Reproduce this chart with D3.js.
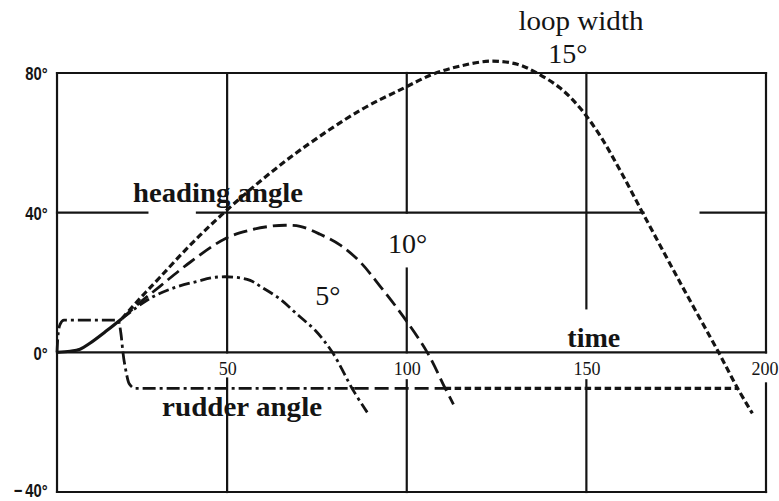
<!DOCTYPE html>
<html>
<head>
<meta charset="utf-8">
<script src="https://cdn.jsdelivr.net/npm/d3@7/dist/d3.min.js"></script>
<style>
  html, body { margin: 0; padding: 0; background: #fff; }
  svg { display: block; }
</style>
</head>
<body>
<svg id="chart" width="779" height="501"></svg>
<script>
// ---- data ---------------------------------------------------------------
// Common start of the heading-angle response (all loop widths coincide)
const headingStartTime = [2.65, 6.3, 9.05, 11.8, 16.6, 20.75];
const headingStartDeg  = [0, 0.3, 0.9, 2.6, 6.3, 9.7];

// Heading angle after the branch point, per loop width
const heading5Time  = [20.75, 28.6, 35.5, 41.6, 46.7, 52.2, 56.4, 59.7, 64.8, 69.8, 74.5, 79.3, 85.1, 89.0];
const heading5Deg   = [9.7, 15.5, 18.6, 20.3, 21.5, 21.5, 20.6, 18.6, 15.2, 10.6, 6.3, 0, -10.9, -17.2];

const heading10Time = [20.75, 25.8, 31.3, 39.7, 49.7, 56.4, 62.0, 66.2, 70.3, 75.9, 81.5, 87.1, 92.6, 99.0, 105.7, 110.7, 113.0];
const heading10Deg  = [9.7, 14.3, 18.9, 25.8, 32.7, 35.0, 36.1, 36.4, 36.1, 33.8, 30.7, 25.8, 18.9, 10.3, 0, -10.3, -14.9];

const heading15Time = [20.75, 25.8, 31.3, 39.7, 48.6, 59.2, 70.3, 87.0, 99.0, 107.4, 114.9, 123.3, 130.8, 136.4, 142.8, 148.3, 153.9, 159.5, 165.9, 176.2, 186.8, 192.1, 196.2];
const heading15Deg  = [9.7, 15.5, 21.5, 30.7, 39.5, 49.0, 57.9, 69.3, 75.6, 79.7, 82.0, 83.4, 82.5, 79.9, 75.6, 69.9, 61.9, 51.9, 39.5, 19.8, 0, -10.3, -17.5];

// Rudder angle command
const rudderTime = [2.65, 2.9, 3.5, 4.6, 19.6, 20.5, 21.0, 21.9, 22.7, 24.4, 192.1];
const rudderDeg  = [0, 4.6, 8.0, 9.2, 9.2, 4.9, 0, -5.7, -8.9, -10.3, -10.3];

// Time at which the rudder command of each loop ends
const loopEndTime = [85.1, 110.7, 192.1];
const loopNames   = ["5°", "10°", "15°"];

// Axis ticks
const yTicks = [-40, 0, 40, 80];
const xTicks = [50, 100, 150, 200];

// ---- scales --------------------------------------------------------------
const svg = d3.select("#chart");
const x = d3.scaleLinear().domain([0, 200]).range([47.5, 766]);
const y = d3.scaleLinear().domain([-40, 80]).range([492, 73]);
const tMin = headingStartTime[0];

const ink = "#141414";

// ---- frame and grid -------------------------------------------------------
const grid = svg.append("g")
  .attr("stroke", ink)
  .attr("stroke-width", 2.2)
  .attr("stroke-linecap", "square")
  .attr("fill", "none");

function hSeg(v, t0, t1) {
  grid.append("line").attr("x1", x(t0)).attr("x2", x(t1)).attr("y1", y(v)).attr("y2", y(v));
}
function vSeg(t, v0, v1) {
  grid.append("line").attr("x1", x(t)).attr("x2", x(t)).attr("y1", y(v0)).attr("y2", y(v1));
}

hSeg(80, tMin, 200);
hSeg(-40, tMin, 200);
hSeg(0, tMin, 200);
vSeg(tMin, 80, -40);
// 40° line is broken where the labels sit
hSeg(40, tMin, 27.8);
hSeg(40, 41.6, 165.9);
hSeg(40, 181.8, 200);
// vertical grid, interrupted by the time-axis labels
vSeg(50, 80, 0);   vSeg(50, -7.5, -40);
vSeg(100, 80, 40); vSeg(100, 24, 0); vSeg(100, -8, -40);
vSeg(150, 80, 12.6); vSeg(150, -8, -40);
vSeg(200, 80, 0);  vSeg(200, -8.9, -40);

// ---- axes labels ------------------------------------------------------------
const yAxis = svg.append("g")
  .attr("transform", `translate(${x(tMin)},0)`)
  .call(d3.axisLeft(y).tickValues(yTicks).tickSize(0).tickPadding(0)
    .tickFormat(d => (d < 0 ? "\u2212\u2009" + Math.abs(d) : d) + "°"));
yAxis.select(".domain").remove();
yAxis.selectAll("text")
  .style("font-family", "'Liberation Sans', Arial, sans-serif")
  .style("font-weight", "bold")
  .style("font-size", "19px")
  .attr("fill", ink)
  .attr("x", -12)
  .attr("dy", d => d < 0 ? "0.26em" : "0.36em")
  .attr("transform", "scale(0.78,1)");

const xAxis = svg.append("g")
  .attr("transform", `translate(0,${y(0)})`)
  .call(d3.axisBottom(x).tickValues(xTicks).tickSize(0).tickPadding(10));
xAxis.select(".domain").remove();
xAxis.selectAll("text")
  .style("font-family", "'Liberation Serif', 'Times New Roman', serif")
  .style("font-size", "18px")
  .attr("fill", ink)
  .attr("dx", d => d === 200 ? "-1.5" : "0");

// ---- annotations --------------------------------------------------------------
function label(txt, t, v, size, bold, len) {
  const el = svg.append("text")
    .attr("x", x(t)).attr("y", y(v))
    .style("font-family", "'Liberation Serif', 'Times New Roman', serif")
    .style("font-size", size + "px")
    .style("font-weight", bold ? "bold" : "normal")
    .attr("fill", ink)
    .text(txt);
  if (len) el.attr("textLength", len).attr("lengthAdjust", "spacingAndGlyphs");
  return el;
}
label("loop width", 131.1, 92.3, 27, false, 125);
label(loopNames[2], 139.4, 82.8, 28, false);
label(loopNames[1], 94.8, 28.4, 28, false);
label(loopNames[0], 74.5, 13.5, 28, false);
label("heading angle", 23.8, 43.0, 27, true, 170);
label("time", 144.7, 1.4, 27, true, 53);
label("rudder angle", 31.9, -18.1, 27, true, 160);

// ---- curves ------------------------------------------------------------------
const smooth = d3.line()
  .x(d => x(d[0]))
  .y(d => y(d[1]))
  .curve(d3.curveCatmullRom.alpha(0.5));
const stepLine = d3.line()
  .x(d => x(d[0]))
  .y(d => y(d[1]))
  .curve(d3.curveMonotoneX);

const zip = (ts, vs) => ts.map((t, i) => [t, vs[i]]);

const styles = [
  { dash: "11,4,3,4", width: 2.8 },   // 5°  : dash-dot
  { dash: "14,6",     width: 2.8 },   // 10° : long dash
  { dash: "6.5,3.5",  width: 3.2 }    // 15° : short dash
];
const headingSeries = [
  zip(heading5Time, heading5Deg),
  zip(heading10Time, heading10Deg),
  zip(heading15Time, heading15Deg)
];

const curves = svg.append("g").attr("fill", "none").attr("stroke", ink);

// rudder command: each loop's style shows from the previous loop's end to its own end
const rudder = zip(rudderTime, rudderDeg);
const defs = svg.append("defs");
loopEndTime.forEach((tEnd, i) => {
  const t0 = i === 0 ? tMin - 3 : loopEndTime[i - 1];
  defs.append("clipPath").attr("id", "rudder-clip-" + i)
    .append("rect")
    .attr("x", x(t0)).attr("width", x(tEnd) - x(t0) + 2)
    .attr("y", y(80)).attr("height", y(-40) - y(80));
});
[2, 1, 0].forEach(i => {
  curves.append("path")
    .attr("d", stepLine(rudder))
    .attr("clip-path", `url(#rudder-clip-${i})`)
    .attr("stroke-width", styles[i].width)
    .attr("stroke-dasharray", i === 0 ? "13,4,3,4" : styles[i].dash);
});

// heading angle curves
headingSeries.forEach((s, i) => {
  curves.append("path")
    .attr("d", smooth(s))
    .attr("stroke-width", styles[i].width)
    .attr("stroke-dasharray", styles[i].dash);
});
curves.append("path")
  .attr("d", smooth(zip(headingStartTime, headingStartDeg)))
  .attr("stroke-width", 3.2);
</script>
</body>
</html>
